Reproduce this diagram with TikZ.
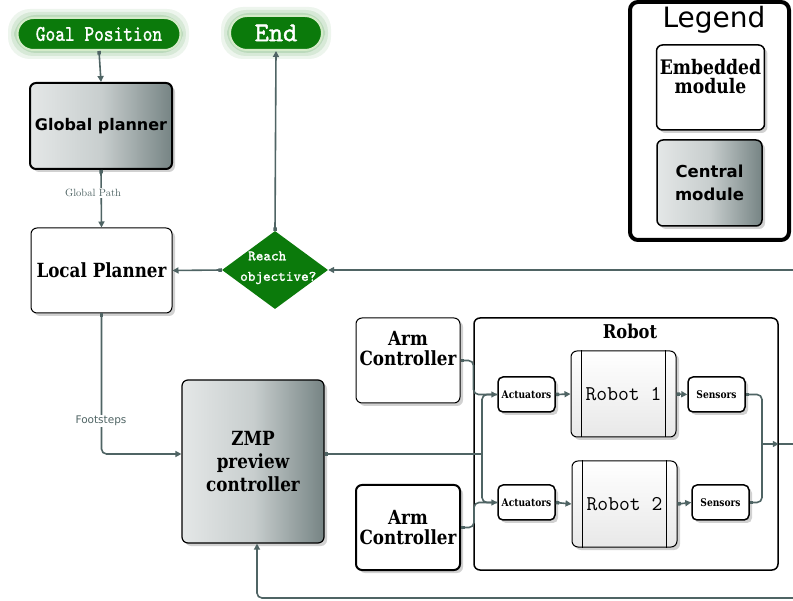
\documentclass[tikz,border=0pt]{standalone}
\usepackage{fontspec}
\usetikzlibrary{shapes.geometric,arrows.meta,shadows}
\newfontfamily\slab[FakeStretch=0.86]{DejaVu Serif}
\newfontfamily\dvs{DejaVu Sans}
\newfontfamily\ttb[FakeBold=1.5]{lmmono10-regular.otf}
\definecolor{ln}{HTML}{4F6464}
\definecolor{gr}{HTML}{0B7A0B}
\definecolor{cL}{HTML}{E4E7E7}
\definecolor{cM}{HTML}{C8CECE}
\definecolor{cR}{HTML}{768484}
\definecolor{glow}{HTML}{D4EBC9}
\tikzset{
  conn/.style={draw=ln, line width=1.6pt, rounded corners=5pt},
  tip/.style={-{Triangle[length=6pt,width=6pt]}},
  dtip/.style={{Square[length=3.5pt,width=3.5pt]}-{Triangle[length=6pt,width=6pt]}},
  shd/.style={drop shadow={shadow xshift=3pt, shadow yshift=-3pt, opacity=.18, fill=black}},
  terminal/.style={draw=glow, line width=2pt, fill=gr, text=white, inner sep=0pt},
  central/.style={draw=black, rounded corners=6pt, shd, left color=cL, right color=cR, middle color=cM},
  embedded/.style={draw=black, rounded corners=6pt, fill=white, shd},
  smallbox/.style={draw=black, line width=1.5pt, rounded corners=5pt, fill=white, shd,
    minimum width=57pt, minimum height=35pt, inner sep=0pt, font=\slab\bfseries\fontsize{10.6}{12}\selectfont},
  procbox/.style={draw=black, line width=1pt, rounded corners=6pt, top color=white, bottom color=gray!18, shd,
    minimum width=105pt, minimum height=86pt, font=\ttfamily\fontsize{21}{23}\selectfont},
  lbl/.style={fill=white, inner sep=1pt, text=ln}
}
\begin{document}
\begin{tikzpicture}[x=1pt,y=-1pt]
\useasboundingbox (0,0) rectangle (793,601);
\fill[white] (0,0) rectangle (793,601);

% glows
\foreach \d/\o in {9/.07,6/.09,3/.12}{
  \fill[green!45!black, opacity=\o, rounded corners=22pt] (17-\d,18-\d) rectangle (180+\d,50+\d);
  \fill[green!45!black, opacity=\o, rounded corners=22pt] (230-\d,16-\d) rectangle (322+\d,50+\d);
}

% terminals
\node[terminal, minimum width=163pt, minimum height=32pt, rounded corners=16pt] (goal) at (99,34)
  {\scalebox{1}[1.2]{\ttb\fontsize{18.5}{20}\selectfont Goal Position}};
\node[terminal, minimum width=92pt, minimum height=34pt, rounded corners=17pt] (end) at (276,33)
  {\ttb\fontsize{27}{28}\selectfont End};

% planners
\node[central, line width=2pt, minimum width=142pt, minimum height=86pt,
  font=\dvs\bfseries\fontsize{16}{19}\selectfont] (global) at (101,126) {Global planner};
\node[embedded, line width=1pt, minimum width=141pt, minimum height=85pt,
  font=\slab\bfseries\fontsize{19.5}{22}\selectfont] (local) at (101.5,270.5) {Local Planner};

% decision
\node[diamond, fill=gr, minimum width=106pt, minimum height=78pt, inner sep=0pt] (reach) at (275,270) {};
\node[anchor=west, inner sep=0pt, text=white, font=\ttb\fontsize{14.5}{16}\selectfont] (reachA) at (248,256) {Reach};
\node[anchor=west, inner sep=0pt, text=white, font=\ttb\fontsize{14.5}{16}\selectfont] (reachB) at (240,278) {objective?};

% legend
\node[draw=black, line width=4pt, rounded corners=8pt, minimum width=159pt, minimum height=238pt, fill=white] (legend) at (709.5,121) {};
\node[font=\dvs\fontsize{28}{30}\selectfont, inner sep=0pt] (legendT) at (714,20) {Legend};
\node[embedded, line width=1.5pt, minimum width=105pt, minimum height=85pt, align=center,
  font=\slab\bfseries\fontsize{20}{19}\selectfont] (legE) at (710.5,87.5) {Embedded\\module\\[4pt]};
\node[central, line width=1.5pt, minimum width=105pt, minimum height=86pt, align=center,
  font=\dvs\bfseries\fontsize{16.5}{23}\selectfont] (legC) at (709.5,183) {Central\\module};

% ZMP and arm controllers
\node[central, line width=1.2pt, minimum width=142pt, minimum height=163pt, align=center,
  font=\slab\bfseries\fontsize{19.5}{23}\selectfont] (zmp) at (253,461.5) {ZMP\\preview\\controller};
\node[embedded, line width=1pt, minimum width=104pt, minimum height=85pt, align=center,
  font=\slab\bfseries\fontsize{19.5}{20}\selectfont] (armA) at (408,360.5) {Arm\\Controller\\[4pt]};
\node[embedded, line width=2pt, minimum width=104pt, minimum height=85pt, align=center,
  font=\slab\bfseries\fontsize{19.5}{20}\selectfont] (armB) at (408,527.5) {Arm\\Controller};

% robot group
\node[draw=black, line width=1.5pt, rounded corners=6pt, minimum width=304pt, minimum height=252pt] (robot) at (626,444) {};
\node[font=\slab\bfseries\fontsize{19}{21}\selectfont, inner sep=0pt] (robotT) at (630,331) {Robot};
\node[smallbox] (act1) at (526.5,394.5) {Actuators};
\node[smallbox] (act2) at (526.5,502.5) {Actuators};
\node[procbox] (rob1) at (623.5,394) {Robot 1};
\node[procbox] (rob2) at (624.5,504) {Robot 2};
\foreach \r in {rob1,rob2}{
  \draw[line width=1pt] ([xshift=11pt]\r.north west) -- ([xshift=11pt]\r.south west);
  \draw[line width=1pt] ([xshift=-11pt]\r.north east) -- ([xshift=-11pt]\r.south east);
}
\node[smallbox] (sen1) at (716.5,394.5) {Sensors};
\node[smallbox] (sen2) at (720.5,502.5) {Sensors};

% coordinates
\coordinate (rin) at (793,270);
\coordinate (split) at (482,454);
\coordinate (sj) at (762,444);
\coordinate (rout) at (793,444);
\coordinate (bin) at (793,598);

% connectors
\draw[conn,dtip] (goal.south) -- (global.north);
\draw[conn,dtip] (global.south) -- (local.north);
\draw[conn,dtip] (reach.west) -- (local.east);
\draw[conn,dtip] (reach.north) -- (end.south);
\draw[conn,tip] (rin) -- (reach.east);
\draw[conn,dtip] (local.south) |- ([yshift=7.5pt]zmp.west);
\draw[conn,{Square[length=3.5pt,width=3.5pt]}-] ([yshift=7.5pt]zmp.east) -- (split);
\draw[conn,tip] (split) |- (act1.west);
\draw[conn,tip] (split) |- (act2.west);
\draw[conn,{Square[length=3.5pt,width=3.5pt]}-] (armA.east) -- ++(13,0) |- (act1.west);
\draw[conn,{Square[length=3.5pt,width=3.5pt]}-] (armB.east) -- ++(13,0) |- (act2.west);
\draw[conn,dtip] (act1.east) -- (rob1.west);
\draw[conn,dtip] (act2.east) -- (rob2.west);
\draw[conn,dtip] (rob1.east) -- (sen1.west);
\draw[conn,dtip] (rob2.east) -- (sen2.west);
\draw[conn,{Square[length=3.5pt,width=3.5pt]}-] (sen1.east) -| (sj);
\draw[conn,{Square[length=3.5pt,width=3.5pt]}-] (sen2.east) -| (sj);
\draw[conn,tip] (sj) -- (robot.east);
\draw[conn] (robot.east) -- (rout);
\draw[conn,tip] (bin) -| ([xshift=4pt]zmp.south);

% labels
\node[lbl, font=\fontsize{10.5}{12}\selectfont] (gpath) at (93,193) {Global Path};
\node[lbl, font=\dvs\fontsize{10.5}{12}\selectfont] (fsteps) at (101,421) {Footsteps};
\end{tikzpicture}
\end{document}
